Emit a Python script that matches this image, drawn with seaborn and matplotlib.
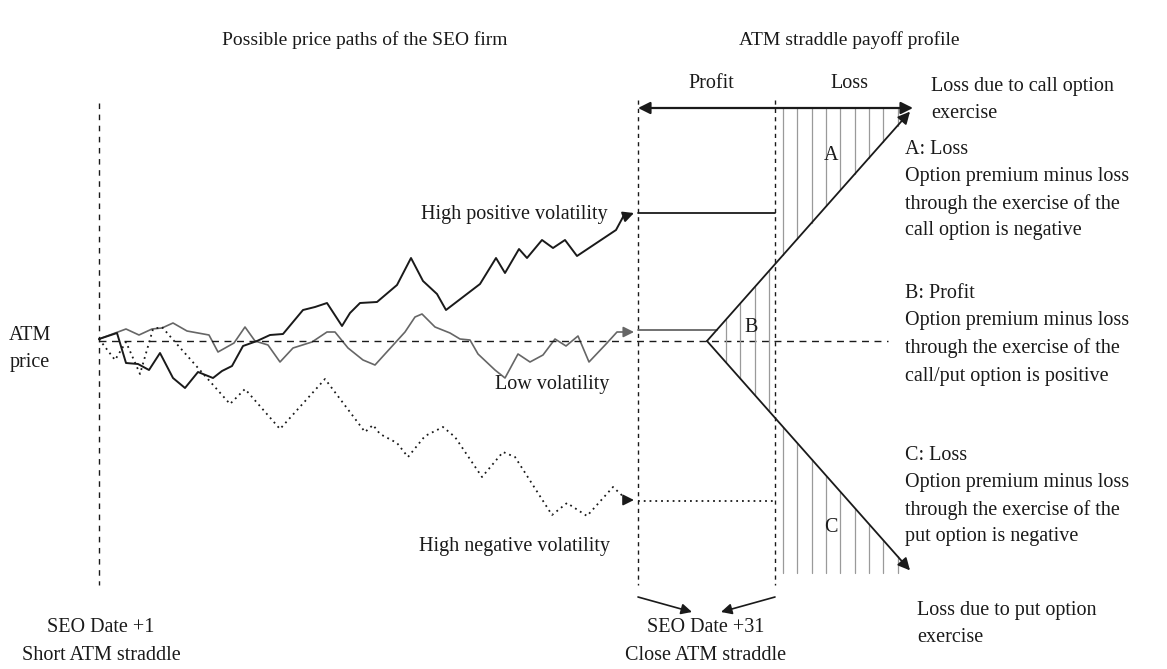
import numpy as np
import pandas as pd
import seaborn as sns
import matplotlib.pyplot as plt

# price paths (x = horizontal position, y = vertical position, drawn with inverted y)
pos_x = [99, 117, 126, 138, 149, 160, 173, 185, 198, 213, 222, 232, 243, 257, 270, 283, 303, 315, 327, 342, 350,
         360, 377, 397, 411, 423, 437, 446, 480, 496, 505, 519, 527, 542, 553, 565, 577, 616, 623]
pos_y = [339, 333, 363, 364, 370, 353, 378, 388, 372, 378, 371, 366, 346, 341, 335, 334, 310, 307, 303, 326, 313,
         303, 302, 285, 258, 281, 294, 310, 284, 258, 273, 249, 258, 240, 248, 240, 256, 230, 217]

low_x = [99, 126, 139, 152, 162, 173, 187, 209, 218, 234, 245, 255, 268, 280, 293, 312, 327, 335, 348, 363,
         375, 405, 415, 422, 435, 450, 460, 470, 478, 495, 505, 518, 530, 543, 555, 566, 578, 589, 607, 617, 624]
low_y = [339, 329, 335, 329, 328, 323, 331, 335, 352, 343, 327, 341, 345, 362, 348, 342, 332, 332, 348, 360,
         365, 332, 317, 314, 327, 333, 339, 340, 354, 370, 378, 354, 362, 355, 339, 346, 336, 362, 343, 332, 332]

neg_x = [99, 115, 126, 140, 153, 162, 175, 230, 245, 280, 325, 365, 373, 380, 397, 408, 425, 443, 455, 482,
         503, 515, 552, 567, 587, 613, 627]
neg_y = [339, 360, 342, 374, 329, 327, 342, 404, 389, 429, 379, 432, 425, 434, 443, 457, 436, 427, 437, 477,
         452, 457, 515, 503, 516, 487, 500]

# straddle payoff
atm_y = 341
strike_x = 707
slope = 1.13
payoff_end_x = 910
close_levels = [213, 330, 501]   # high positive, low, high negative

right_labels = ["A: Loss", "Option premium minus loss", "through the exercise of the", "call option is negative",
                "B: Profit", "Option premium minus loss", "through the exercise of the", "call/put option is positive",
                "C: Loss", "Option premium minus loss", "through the exercise of the", "put option is negative"]
right_label_y = [150, 177, 204, 231, 294, 321, 348, 376, 456, 483, 510, 537]

sns.set_theme(style="white")
plt.rcParams['font.family'] = ['Liberation Serif', 'DejaVu Serif']

fig = plt.figure(figsize=(11.67, 6.69), dpi=100)
ax = fig.add_axes([0, 0, 1, 1])
ax.set_xlim(0, 1167)
ax.set_ylim(669, 0)
ax.axis('off')

black = '#1a1a1a'
grey = '#666666'
fs = 14.5
dots = (0, (1, 2.2))

paths = pd.concat([
    pd.DataFrame({'x': pos_x, 'y': pos_y, 'path': 'pos'}),
    pd.DataFrame({'x': low_x, 'y': low_y, 'path': 'low'}),
    pd.DataFrame({'x': neg_x, 'y': neg_y, 'path': 'neg'}),
])
styles = {'pos': (black, '-', 1.4), 'low': (grey, '-', 1.2), 'neg': (black, dots, 1.3)}
for name, g in paths.groupby('path'):
    c, ls, lw = styles[name]
    sns.lineplot(data=g, x='x', y='y', sort=False, color=c, linestyle=ls, lw=lw, ax=ax, legend=False)
    ax.annotate('', xy=(634, g['y'].iloc[-1] - (4 if name == 'pos' else 0)), xytext=(g['x'].iloc[-1], g['y'].iloc[-1]),
                arrowprops=dict(arrowstyle='-|>', color=c, lw=lw, mutation_scale=16, shrinkA=0, shrinkB=0))

# dashed verticals and ATM line
ax.plot([99, 99], [103, 585], color=black, ls=(0, (4, 4)), lw=1)
ax.plot([638, 638], [100, 585], color=black, ls=(0, (3, 3)), lw=1)
ax.plot([775, 775], [100, 585], color=black, ls=(0, (3, 3)), lw=1)
ax.plot([99, 888], [atm_y, atm_y], color=black, ls=(0, (5, 4)), lw=1)

# hatching
def up(x):
    return atm_y - slope * (x - strike_x)

def down(x):
    return atm_y + slope * (x - strike_x)

for hx in np.arange(726, 906, 14.3):
    if hx < 775:
        ax.plot([hx, hx], [up(hx), down(hx)], color='#9a9a9a', lw=0.9)
    else:
        ax.plot([hx, hx], [108, max(up(hx), 108)], color='#9a9a9a', lw=0.9)
        ax.plot([hx, hx], [min(down(hx), 573), 573], color='#9a9a9a', lw=0.9)

# payoff V
for sgn in (-1, 1):
    ax.annotate('', xy=(payoff_end_x, atm_y + sgn * slope * (payoff_end_x - strike_x)), xytext=(strike_x, atm_y),
                arrowprops=dict(arrowstyle='-|>', color=black, lw=1.3, mutation_scale=18, shrinkA=0, shrinkB=0))

# closing levels
ax.plot([638, 775], [close_levels[0]] * 2, color=black, lw=1.3)
ax.plot([638, strike_x + (atm_y - close_levels[1]) / slope], [close_levels[1]] * 2, color=grey, lw=1.3)
ax.plot([638, 775], [close_levels[2]] * 2, color=black, ls=dots, lw=1.3)

# top profit/loss arrow
ax.annotate('', xy=(913, 108), xytext=(638, 108),
            arrowprops=dict(arrowstyle='<|-|>', color=black, lw=1.6, mutation_scale=18, shrinkA=0, shrinkB=0))

# bottom arrows
ax.annotate('', xy=(692, 612), xytext=(638, 597),
            arrowprops=dict(arrowstyle='-|>', color=black, lw=1.2, mutation_scale=16, shrinkA=0, shrinkB=0))
ax.annotate('', xy=(721, 612), xytext=(775, 597),
            arrowprops=dict(arrowstyle='-|>', color=black, lw=1.2, mutation_scale=16, shrinkA=0, shrinkB=0))

# texts
ax.text(365, 40, "Possible price paths of the SEO firm", ha='center', va='center', fontsize=14, color=black)
ax.text(849, 40, "ATM straddle payoff profile", ha='center', va='center', fontsize=14, color=black)
ax.text(711, 84, "Profit", ha='center', va='center', fontsize=fs, color=black)
ax.text(849, 84, "Loss", ha='center', va='center', fontsize=fs, color=black)
ax.text(931, 86, "Loss due to call option", ha='left', va='center', fontsize=fs, color=black)
ax.text(931, 113, "exercise", ha='left', va='center', fontsize=fs, color=black)
for lbl, ly in zip(right_labels, right_label_y):
    ax.text(905, ly, lbl, ha='left', va='center', fontsize=fs, color=black)
ax.text(831, 155, "A", ha='center', va='center', fontsize=fs, color=black)
ax.text(751, 327, "B", ha='center', va='center', fontsize=fs, color=black)
ax.text(831, 528, "C", ha='center', va='center', fontsize=fs, color=black)
ax.text(30, 335, "ATM", ha='center', va='center', fontsize=fs, color=black)
ax.text(30, 363, "price", ha='center', va='center', fontsize=fs, color=black)
ax.text(608, 214, "High positive volatility", ha='right', va='center', fontsize=fs, color=black)
ax.text(609, 385, "Low volatility", ha='right', va='center', fontsize=fs, color=black)
ax.text(610, 546, "High negative volatility", ha='right', va='center', fontsize=fs, color=black)
ax.text(101, 628, "SEO Date +1", ha='center', va='center', fontsize=fs, color=black)
ax.text(101, 656, "Short ATM straddle", ha='center', va='center', fontsize=fs, color=black)
ax.text(706, 628, "SEO Date +31", ha='center', va='center', fontsize=fs, color=black)
ax.text(706, 656, "Close ATM straddle", ha='center', va='center', fontsize=fs, color=black)
ax.text(917, 611, "Loss due to put option", ha='left', va='center', fontsize=fs, color=black)
ax.text(917, 638, "exercise", ha='left', va='center', fontsize=fs, color=black)

fig.savefig('out.png', dpi=100)
